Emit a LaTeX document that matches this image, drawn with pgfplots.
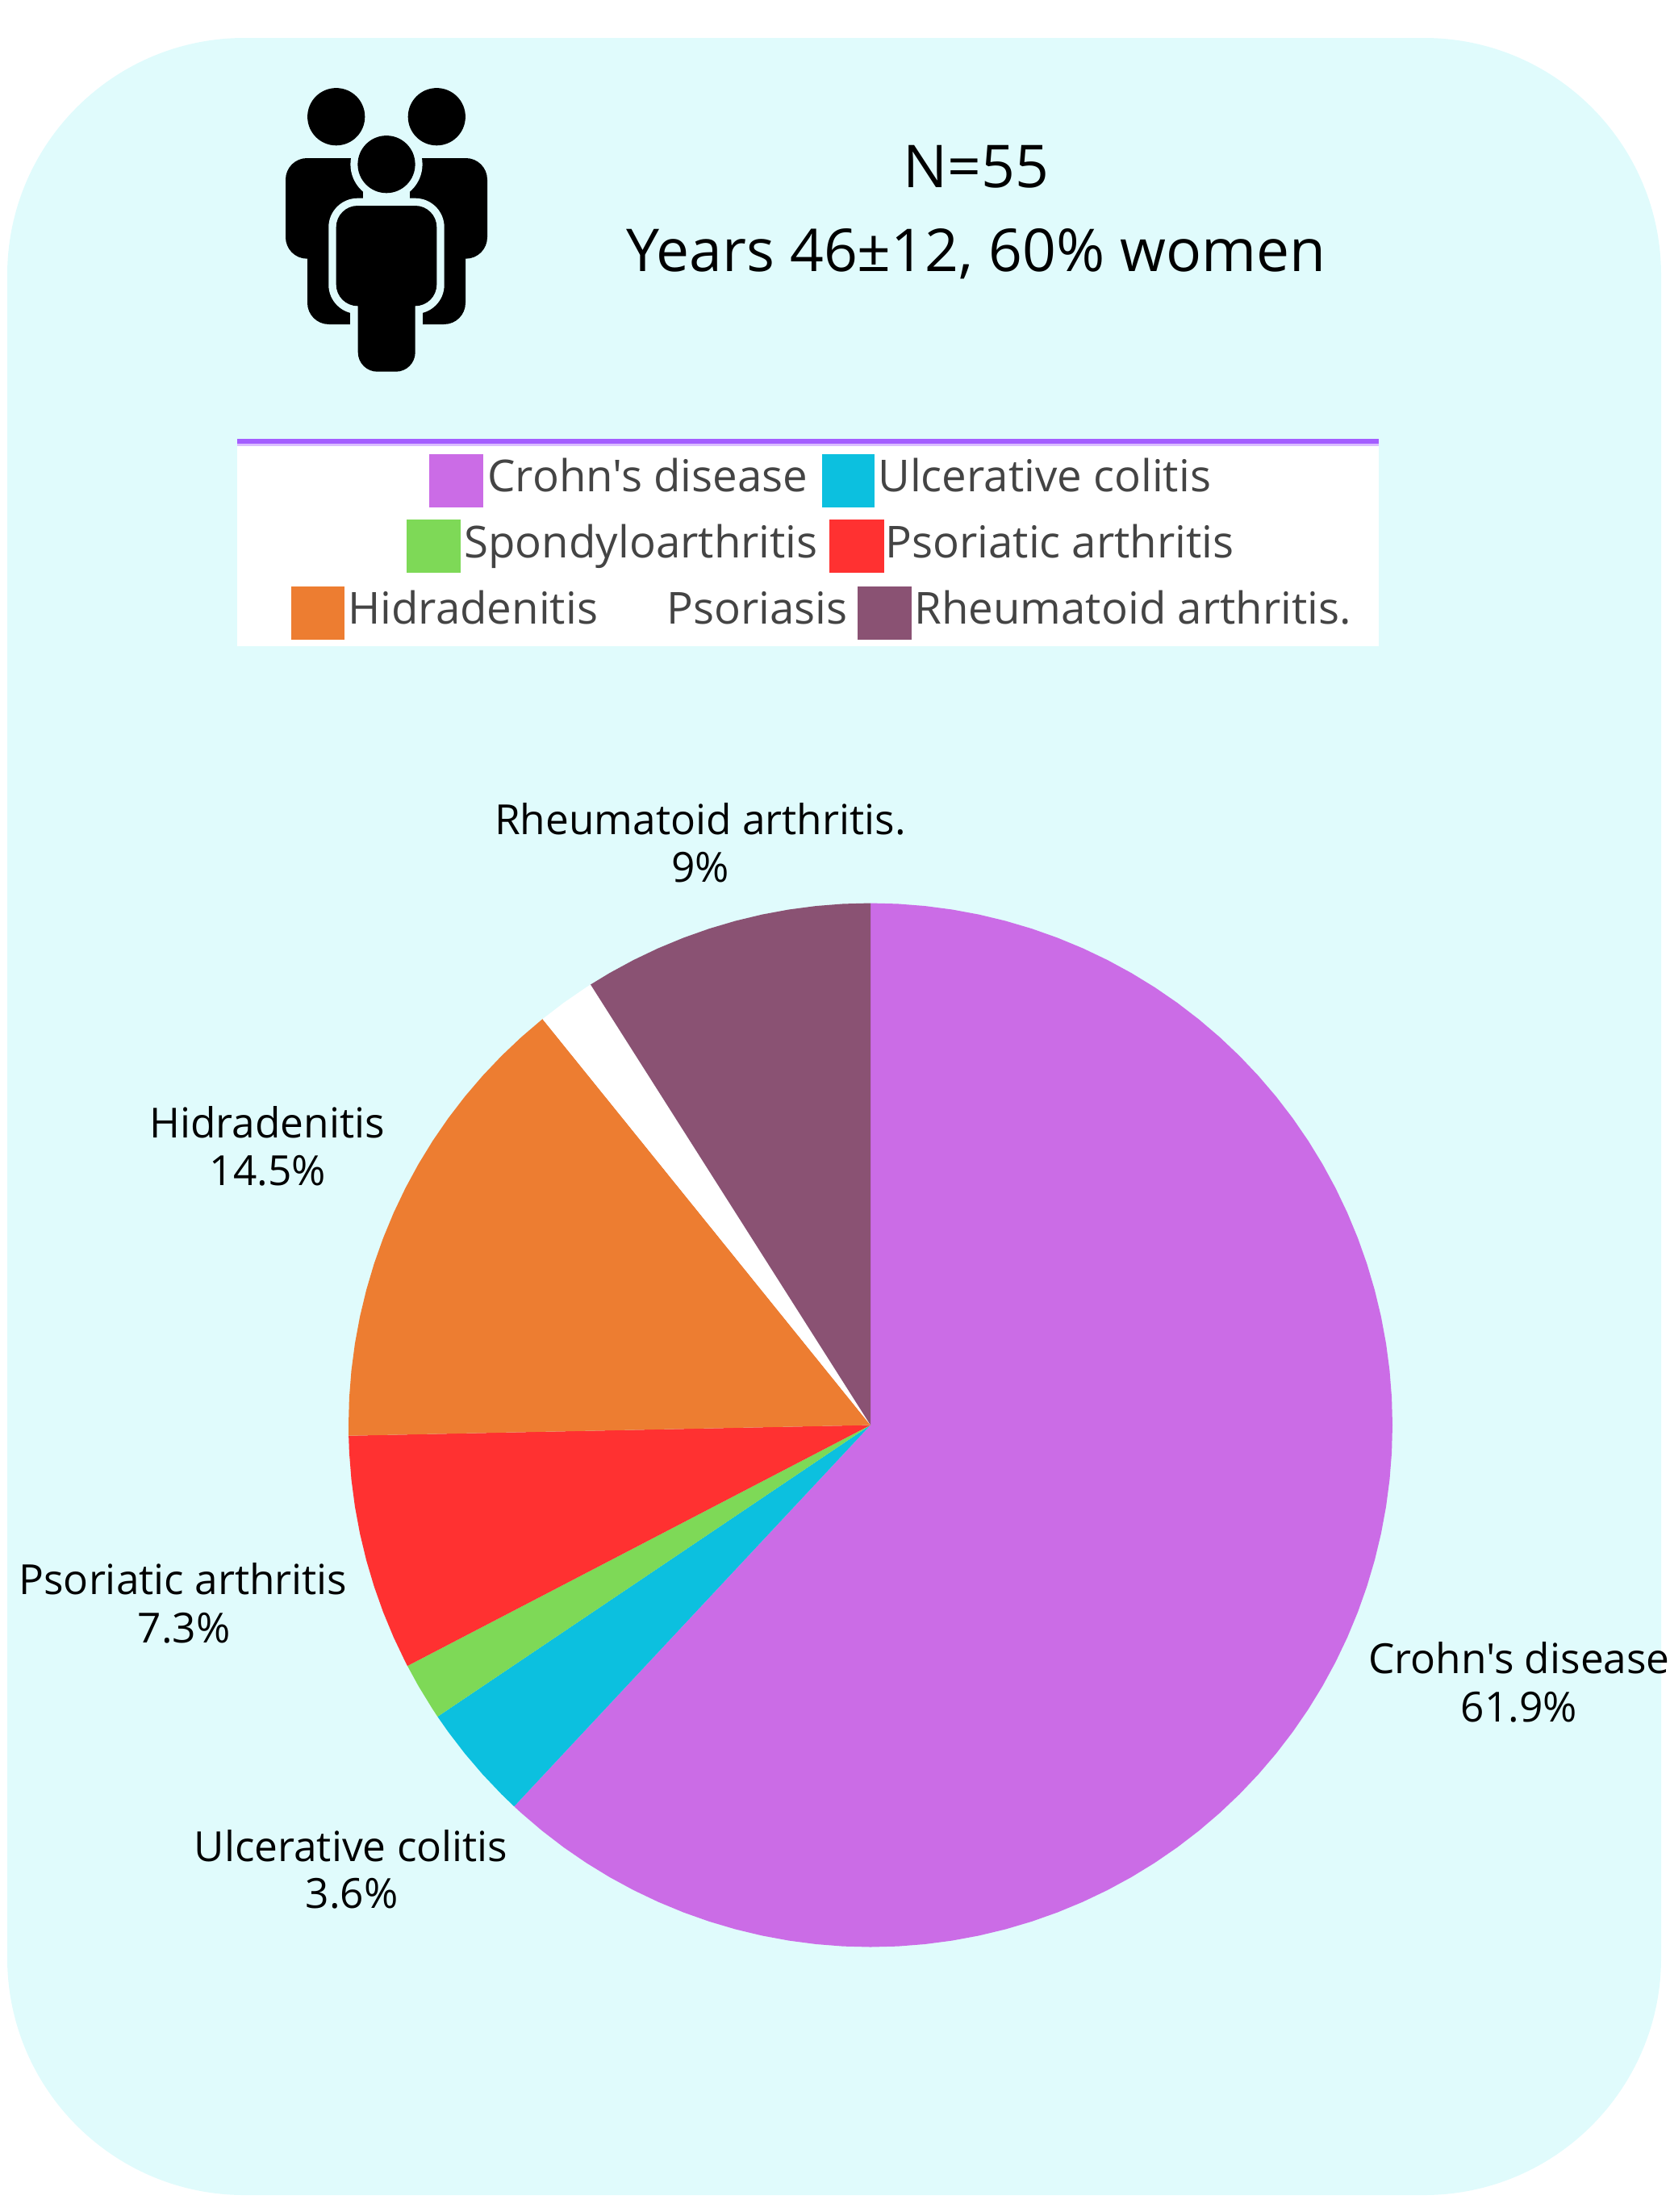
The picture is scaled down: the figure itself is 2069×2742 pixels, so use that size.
\documentclass[border=0pt]{standalone}
\usepackage{pgfplots}
\pgfplotsset{compat=1.18}
\usepgfplotslibrary{polar}
\usepackage{fontspec}
\setmainfont{Open Sans}[Ligatures=TeXOff]
\definecolor{bgc}{HTML}{E0FBFC}
\definecolor{crohn}{HTML}{CB6CE6}
\definecolor{uc}{HTML}{0CC0DF}
\definecolor{spondy}{HTML}{7ED957}
\definecolor{psa}{HTML}{FF3131}
\definecolor{hid}{HTML}{ED7D31}
\definecolor{ra}{HTML}{8A5273}
\definecolor{legline}{HTML}{A45EFF}
\definecolor{legtext}{HTML}{444444}
\newcommand{\lab}[1]{\fontsize{25.7}{32}\selectfont #1}
\newcommand{\leg}[1]{\fontsize{27.3}{34}\selectfont\color{legtext} #1}
\newcommand{\ttl}[1]{\fontsize{36.6}{42}\selectfont #1}
\begin{document}
\begin{tikzpicture}[x=0.5pt,y=-0.5pt]
\useasboundingbox (0,0) rectangle (2069,2742);
\fill[bgc,rounded corners=147pt] (9,47) rectangle (2059,2721);
% icon
\fill (416.7,144.7) circle[radius=17.8pt];
\fill (541.3,144.7) circle[radius=17.8pt];
\fill[rounded corners=13.3pt] (354,196) rectangle (604,320.7);
\fill[rounded corners=13.3pt] (381,280) rectangle (577,402);
\fill[bgc] (479,203.7) circle[radius=22.3pt];
\fill[bgc,rounded corners=18pt] (407.3,245.7) rectangle (550.7,389);
\fill[bgc] (434,350) rectangle (523.7,410);
\fill[bgc] (450,225) rectangle (508,250);
\fill (479,203.7) circle[radius=17.8pt];
\fill[rounded corners=13.3pt] (416.7,255) rectangle (541.3,379.3);
\fill[rounded corners=12pt] (443.7,340) rectangle (514.7,460.7);
% heading
\node[anchor=base,inner sep=0] at (1210,232) {\ttl{N=55}};
\node[anchor=base,inner sep=0] at (1210,336) {\ttl{Years 46±12, 60\% women}};
% legend
\fill[white] (294,544) rectangle (1709,801);
\fill[legline!40!white] (294,550) rectangle (1709,553);
\fill[legline] (294,544) rectangle (1709,550);
\fill[crohn] (532,563) rectangle (599,629);
\fill[uc] (1019,563) rectangle (1084,629);
\fill[spondy] (504,644) rectangle (571,710);
\fill[psa] (1028,644) rectangle (1096,710);
\fill[hid] (361,727) rectangle (427,793);
\fill[ra] (1063,727) rectangle (1130,793);
\node[anchor=base west,inner sep=0] at (604,609) {\leg{Crohn's disease}};
\node[anchor=base west,inner sep=0] at (1088,609) {\leg{Ulcerative colitis}};
\node[anchor=base west,inner sep=0] at (575,691) {\leg{Spondyloarthritis}};
\node[anchor=base west,inner sep=0] at (1097,691) {\leg{Psoriatic arthritis}};
\node[anchor=base west,inner sep=0] at (431,773) {\leg{Hidradenitis}};
\node[anchor=base west,inner sep=0] at (826,773) {\leg{Psoriasis}};
\node[anchor=base west,inner sep=0] at (1133,773) {\leg{Rheumatoid arthritis.}};
% pie: angle (degrees), radius
\begin{polaraxis}[at={(539.5pt,-883.25pt)},anchor=center,scale only axis,width=647pt,height=647pt,
  hide axis,clip=false,xmin=0,xmax=360,ymin=0,ymax=1]
\addplot[fill=crohn,draw=none] coordinates {(0,0) (90,1) (87,1) (84,1) (81,1) (78,1) (75,1) (72,1) (69,1) (66,1) (63,1) (60,1) (57,1) (54,1) (51,1) (48,1) (45,1) (42,1) (39,1) (36,1) (33,1) (30,1) (27,1) (24,1) (21,1) (18,1) (15,1) (12,1) (9,1) (6,1) (3,1) (0,1) (357,1) (354,1) (351,1) (348,1) (345,1) (342,1) (339,1) (336,1) (333,1) (330,1) (327,1) (324,1) (321,1) (318,1) (315,1) (312,1) (309,1) (306,1) (303,1) (300,1) (297,1) (294,1) (291,1) (288,1) (285,1) (282,1) (279,1) (276,1) (273,1) (270,1) (267,1) (264,1) (261,1) (258,1) (255,1) (252,1) (249,1) (246,1) (243,1) (240,1) (237,1) (234,1) (231,1) (228,1) (226.94,1)} -- cycle;
\addplot[fill=uc,draw=none] coordinates {(0,0) (226.94,1) (225,1) (222,1) (219,1) (216,1) (213.96,1)} -- cycle;
\addplot[fill=spondy,draw=none] coordinates {(0,0) (213.96,1) (213,1) (210,1) (207.48,1)} -- cycle;
\addplot[fill=psa,draw=none] coordinates {(0,0) (207.48,1) (207,1) (204,1) (201,1) (198,1) (195,1) (192,1) (189,1) (186,1) (183,1) (181.17,1)} -- cycle;
\addplot[fill=hid,draw=none] coordinates {(0,0) (181.17,1) (180,1) (177,1) (174,1) (171,1) (168,1) (165,1) (162,1) (159,1) (156,1) (153,1) (150,1) (147,1) (144,1) (141,1) (138,1) (135,1) (132,1) (129,1) (128.92,1)} -- cycle;
\addplot[fill=white,draw=none] coordinates {(0,0) (128.92,1) (126,1) (123,1) (122.43,1)} -- cycle;
\addplot[fill=ra,draw=none] coordinates {(0,0) (122.43,1) (120,1) (117,1) (114,1) (111,1) (108,1) (105,1) (102,1) (99,1) (96,1) (93,1) (90,1)} -- cycle;
\end{polaraxis}
% slice labels
\node[anchor=base,inner sep=0] at (868,1034) {\lab{Rheumatoid arthritis.}};
\node[anchor=base,inner sep=0] at (868,1093) {\lab{9\%}};
\node[anchor=base,inner sep=0] at (331,1410) {\lab{Hidradenitis}};
\node[anchor=base,inner sep=0] at (332,1469) {\lab{14.5\%}};
\node[anchor=base,inner sep=0] at (227,1976) {\lab{Psoriatic arthritis}};
\node[anchor=base,inner sep=0] at (228,2036) {\lab{7.3\%}};
\node[anchor=base,inner sep=0] at (435,2307) {\lab{Ulcerative colitis}};
\node[anchor=base,inner sep=0] at (436,2365) {\lab{3.6\%}};
\node[anchor=base,inner sep=0] at (1883,2074) {\lab{Crohn's disease}};
\node[anchor=base,inner sep=0] at (1883,2134) {\lab{61.9\%}};
\end{tikzpicture}
\end{document}
